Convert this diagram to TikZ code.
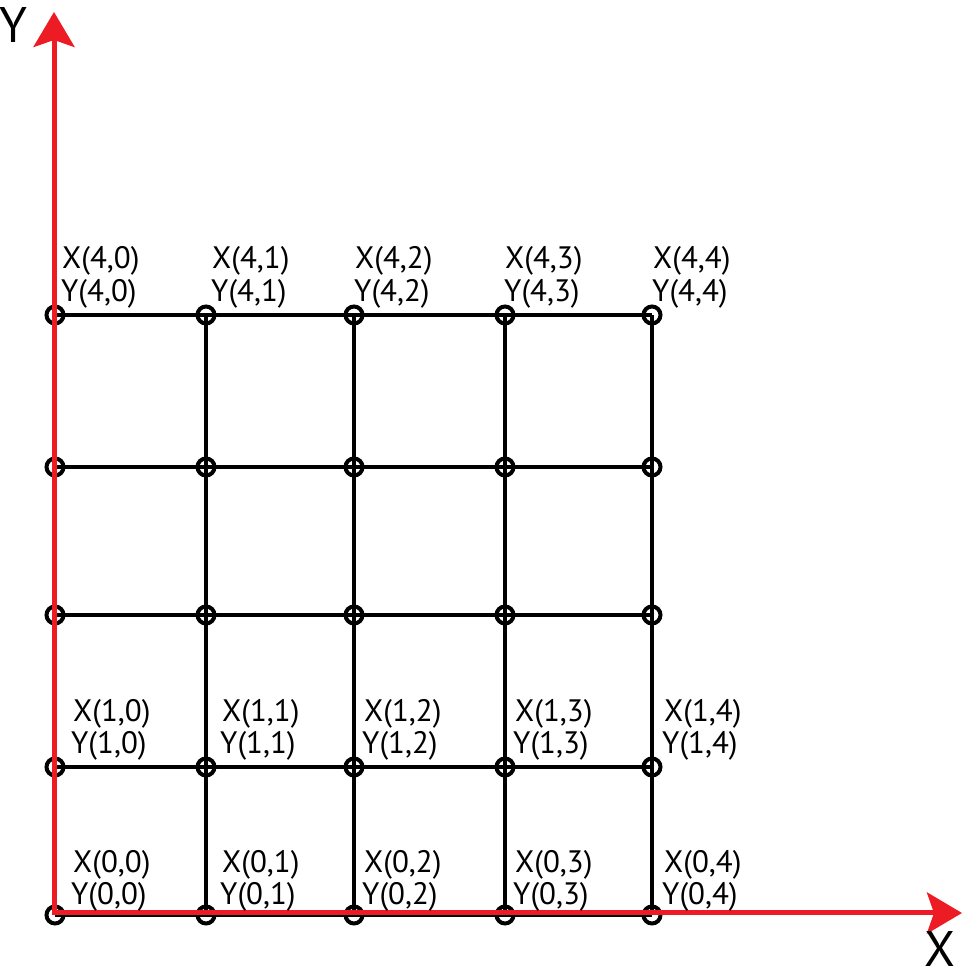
\documentclass[tikz,border=0pt]{standalone}
\usepackage{fontspec}
\setmainfont{PT Sans}
\usetikzlibrary{arrows.meta}
\definecolor{axisred}{HTML}{ED1C24}

\begin{document}
\begin{tikzpicture}[x=1pt, y=1pt,
  gridline/.style={black, line width=4pt},
  knot/.style={circle, draw=black, line width=4pt, minimum size=17pt, inner sep=0},
  axis/.style={axisred, line width=5pt, {Stealth[length=35pt,width=41pt,inset=7pt]}-{Stealth[length=35pt,width=41pt,inset=7pt]}},
  lbl/.style={anchor=base west, inner sep=0, font=\fontsize{31}{33}\selectfont}]
\useasboundingbox (0,0) rectangle (963,979);
% grid points, row 0 at the bottom
\foreach \c/\x in {0/55,1/206,2/354,3/505,4/652}
  \foreach \r/\y in {0/64,1/212,2/364,3/512,4/664}
    \coordinate (p\r\c) at (\x,\y);
\foreach \r in {0,...,4} \draw[gridline] (p\r0) -- (p\r4);
\foreach \c in {0,...,4} \draw[gridline] (p0\c) -- (p4\c);
\foreach \r in {0,...,4}
  \foreach \c in {0,...,4}
    \node[knot] (k\r\c) at (p\r\c) {};
% axes
\coordinate (o) at (54,66);
\coordinate (ytip) at (54,967);
\coordinate (xtip) at (962,66);
\draw[axis] (ytip) -- (o) -- (xtip);
\node[font=\fontsize{50}{50}\selectfont, inner sep=0] (ylab) at (13,954) {Y};
\node[font=\fontsize{50}{50}\selectfont, inner sep=0] (xlab) at (940,30) {X};
% labels
\foreach \c/\xa/\xb in {0/62/73,1/212/222,2/355/364,3/505/515,4/653/664} {
  \node[lbl] (xt4\c) at (\xa,710) {X(4,\c)};
  \node[lbl] (yt4\c) at (\xa-1,677) {Y(4,\c)};
  \foreach \r/\yb in {0/106,1/257} {
    \node[lbl] (xt\r\c) at (\xb,\yb) {X(\r,\c)};
    \node[lbl] (yt\r\c) at (\xb-2,\yb-32) {Y(\r,\c)};
  }
}
\end{tikzpicture}
\end{document}
